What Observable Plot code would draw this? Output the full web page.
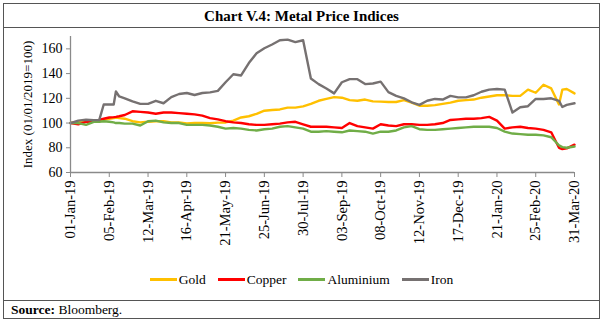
<!DOCTYPE html>
<html><head><meta charset="utf-8">
<script src="https://cdn.jsdelivr.net/npm/d3@7"></script>
<script src="https://cdn.jsdelivr.net/npm/@observablehq/plot@0.6"></script>
<style>
html,body{margin:0;padding:0;background:#fff;}
body{width:603px;height:324px;overflow:hidden;font-family:"Liberation Serif",serif;color:#000;position:relative;}
#frame{position:absolute;left:3px;top:3px;width:595px;height:314px;border:1px solid #555;}
#title{height:23px;line-height:24px;text-align:center;font-weight:bold;font-size:15px;border-bottom:1px solid #555;}
#chart{height:222px;}
#chart svg{display:block;}
#lg{height:30px;padding-top:20px;text-align:center;font-size:13.5px;line-height:17px;white-space:nowrap;}
#source{border-top:1px solid #555;height:17px;line-height:18px;padding-left:7px;font-size:13.5px;}
</style>
</head><body>
<div id="frame">
  <div id="title">Chart V.4: Metal Price Indices</div>
  <div id="chart"></div>
  <div id="lg"></div>
  <div id="source"><b>Source:</b> Bloomberg.</div>
</div>
<script>
const dates = ["2019-01-01","2019-01-08","2019-01-15","2019-01-22","2019-01-27","2019-01-31","2019-02-05","2019-02-09","2019-02-11","2019-02-14","2019-02-19","2019-02-26","2019-03-05","2019-03-12","2019-03-19","2019-03-26","2019-04-02","2019-04-09","2019-04-16","2019-04-23","2019-04-30","2019-05-07","2019-05-14","2019-05-21","2019-05-28","2019-06-04","2019-06-11","2019-06-18","2019-06-25","2019-07-02","2019-07-09","2019-07-16","2019-07-23","2019-07-30","2019-08-06","2019-08-13","2019-08-20","2019-08-27","2019-09-03","2019-09-10","2019-09-17","2019-09-24","2019-10-01","2019-10-08","2019-10-15","2019-10-22","2019-10-29","2019-11-05","2019-11-12","2019-11-19","2019-11-26","2019-12-03","2019-12-10","2019-12-17","2019-12-24","2019-12-31","2020-01-07","2020-01-14","2020-01-21","2020-01-28","2020-02-04","2020-02-11","2020-02-18","2020-02-25","2020-03-03","2020-03-10","2020-03-17","2020-03-20","2020-03-24","2020-03-31"];

const gold = [100,101,101.3,102,102.3,102.8,103.5,104,104.5,104,103.5,101.5,100.5,101,101.5,101.5,100.5,
  100.5,99.7,100,100,99.8,100.3,100.5,102,104.5,105.5,107.5,110,110.5,
  111,112.5,112.5,113.5,115.5,118,119.5,121,120.5,118.5,118,119,117.5,
  117.3,117,117,118.5,116.5,114,114,114.5,115.5,116.5,118,118.5,119,
  120.5,121.5,122.5,122.5,122,122,127,124.5,131,128,115,127,127.5,124];

const copper = [100,99,101,101,102.5,103.5,104.5,104.8,105,105.5,106.5,109.5,109,108.5,107.5,108.5,108.5,
  108,107.5,107,106,104,103,101.5,100.5,100,99,98.5,98.5,99,
  99.5,100.5,101,99,97,97,97,96.5,96,100,97.5,96.5,95.5,
  99,98,97.5,99,99,98.5,98.5,99,100,102.5,103,103.5,103.5,
  104,105,102,95.5,96.5,97,96,95.5,94.5,92.5,80,79,79.5,82.5];

const aluminium = [100,100,98.5,101,101,101.5,101,100.5,100,100,99.5,99.5,98,101.5,102,100.5,100,
  100,98.5,98.5,98.5,98,97,95.5,96,95.5,94.5,94,95,95.5,
  97,97.5,96.5,95.5,93,93,93.5,93,92.5,94,93.5,93,91.5,
  93,93,94,96.5,97.5,95,94.5,94.5,95,95.5,96,96.5,97,
  97,97,96,93,91.5,91,90.5,90.5,90,88.5,82,80.5,80,81];

const iron = [100,102,102.7,102.4,102.5,115,115,115,125.5,121.5,120,117.5,115.5,115.5,118,116,121,
  123.5,124.3,122.7,124.3,124.8,126,133,139.5,138.5,148.5,156.5,160.5,163.5,
  167,167.5,165.5,167,136,131.5,128,124,133,135.5,135.5,131.5,132,
  133.5,125,122,120,116.8,114.7,118,119.5,119,122,120.8,120.8,122.5,
  125.3,127,127.5,127,108.5,112.8,113.6,119.5,119.5,120,118,113,114.7,116];

const seriesNames = ["Gold","Copper","Aluminium","Iron"];
const seriesColors = ["#FFC000","#FF0000","#70AD47","#767171"];
const seriesValues = [gold, copper, aluminium, iron];
const tickDates = ["2019-01-01","2019-02-05","2019-03-12","2019-04-16","2019-05-21","2019-06-25","2019-07-30","2019-09-03","2019-10-08","2019-11-12","2019-12-17","2020-01-21","2020-02-25","2020-03-31"];
const yTicks = [60,80,100,120,140,160];

const parse = d3.utcParse("%Y-%m-%d");
const rows = [];
seriesNames.forEach((name, i) => {
  seriesValues[i].forEach((v, j) => rows.push({series: name, date: parse(dates[j]), value: v}));
});

const axisColor = "#8a8a8a";
const chart = Plot.plot({
  width: 595, height: 222,
  marginLeft: 66, marginRight: 25, marginTop: 8, marginBottom: 78,
  style: {fontFamily: "'Liberation Serif',serif", fontSize: "14px", color: "#000", background: "transparent", overflow: "visible"},
  x: {type: "utc", domain: [parse("2019-01-01"), parse("2020-03-31")]},
  y: {domain: [60, 170]},
  color: {domain: seriesNames, range: seriesColors},
  marks: [
    Plot.lineY(rows, {x: "date", y: "value", z: "series", stroke: "series", strokeWidth: 2.4, strokeLinejoin: "round"}),
    Plot.ruleY([60], {stroke: axisColor, strokeWidth: 1.3}),
    Plot.ruleX([parse("2019-01-01")], {y1: 60, y2: 170, stroke: axisColor, strokeWidth: 1.3}),
    Plot.axisX(tickDates.map(parse), {tickFormat: d3.utcFormat("%d-%b-%y"), tickRotate: -90, tickSize: 5, tickPadding: 3, stroke: axisColor, fill: "#000", fontSize: 14.5, label: null}),
    Plot.axisY(yTicks, {tickSize: 4, tickPadding: 4, stroke: axisColor, fill: "#000", fontSize: 14, label: null}),
    Plot.axisY([], {fill: "#000", fontSize: 13, label: "Index (01/01/2019=100)", labelAnchor: "center", labelArrow: "none", labelOffset: 48})
  ]
});
document.getElementById("chart").appendChild(chart);

const lg = document.getElementById("lg");
lg.innerHTML = seriesNames.map((name, i) =>
  `<span style="display:inline-block;margin:0 6px;font-family:'Liberation Serif',serif;"><span style="display:inline-block;width:27px;height:3px;background:${seriesColors[i]};vertical-align:middle;margin-right:2px;"></span><span style="font-family:'Liberation Serif',serif;vertical-align:middle;">${name}</span></span>`
).join("");
</script>
</body></html>
